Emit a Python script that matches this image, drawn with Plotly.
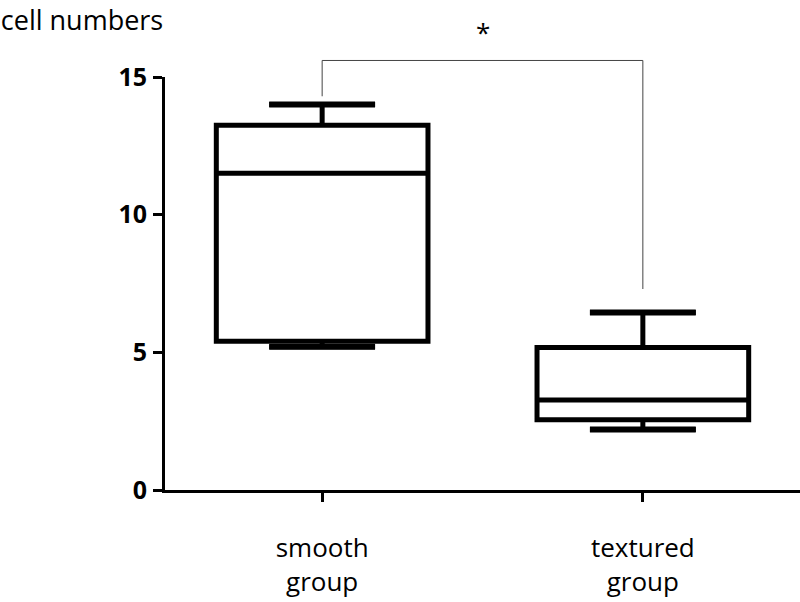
import plotly.graph_objects as go

groups = ["smooth<br>group", "textured<br>group"]
group_pos = [0, 1]
lower_whisker = [5.2, 2.2]
q1 = [5.4, 2.55]
median = [11.5, 3.27]
q3 = [13.25, 5.18]
upper_whisker = [14.0, 6.45]

y_ticks = [0, 5, 10, 15]
y_max = 15

# significance bracket (data units)
bracket_top = 15.6
bracket_left_end = 14.3
bracket_right_end = 7.3
star_y = 17.35

box_w = 0.66
cap_w = 0.33

fig = go.Figure()

fig.add_trace(go.Box(
    x=group_pos, q1=q1, median=median, q3=q3,
    lowerfence=lower_whisker, upperfence=upper_whisker,
    width=box_w, fillcolor="white",
    line=dict(color="black", width=5),
    boxpoints=False, hoverinfo="skip", showlegend=False,
))

# whisker caps
cap_x, cap_y = [], []
for p, lo, hi in zip(group_pos, lower_whisker, upper_whisker):
    for v in (lo, hi):
        cap_x += [p - cap_w / 2, p + cap_w / 2, None]
        cap_y += [v, v, None]
fig.add_trace(go.Scatter(x=cap_x, y=cap_y, mode="lines",
                         line=dict(color="black", width=6),
                         hoverinfo="skip", showlegend=False))

# bracket drawn with x in data units and y as fraction of the y range
fig.add_shape(type="path", xref="x", yref="paper",
              path=f"M {group_pos[0]},{bracket_left_end / y_max} "
                   f"L {group_pos[0]},{bracket_top / y_max} "
                   f"L {group_pos[1]},{bracket_top / y_max} "
                   f"L {group_pos[1]},{bracket_right_end / y_max}",
              line=dict(color="#444", width=1))
fig.add_annotation(x=sum(group_pos) / 2, y=star_y / y_max, xref="x", yref="paper",
                   text="*", showarrow=False,
                   font=dict(family="Open Sans", size=26, color="black"))

fig.update_layout(
    width=800, height=602,
    margin=dict(l=165, r=0, t=77, b=112),
    plot_bgcolor="white", paper_bgcolor="white",
    title=dict(text="cell numbers", x=0.001, xref="container", xanchor="left",
               y=0.966, yanchor="middle", pad=dict(l=0, t=0, b=0, r=0),
               font=dict(family="Open Sans", size=27, color="black")),
    xaxis=dict(range=[-0.49, 1.49], tickvals=group_pos, ticktext=groups,
               showline=True, linecolor="black", linewidth=3, automargin=False,
               ticks="outside", ticklen=9, tickwidth=3, tickcolor="black",
               showgrid=False, zeroline=False, ticklabelstandoff=24,
               tickfont=dict(family="Open Sans", size=26, color="black")),
    yaxis=dict(range=[0, y_max], tickvals=y_ticks, automargin=False,
               showline=True, linecolor="black", linewidth=3,
               ticks="outside", ticklen=9, tickwidth=3, tickcolor="black",
               showgrid=False, zeroline=False, ticklabelstandoff=1,
               tickfont=dict(family="Open Sans", size=25, color="black", weight="bold")),
)

fig.write_html("out.html", config={"displayModeBar": False},
               post_script="document.body.style.margin='0';")
